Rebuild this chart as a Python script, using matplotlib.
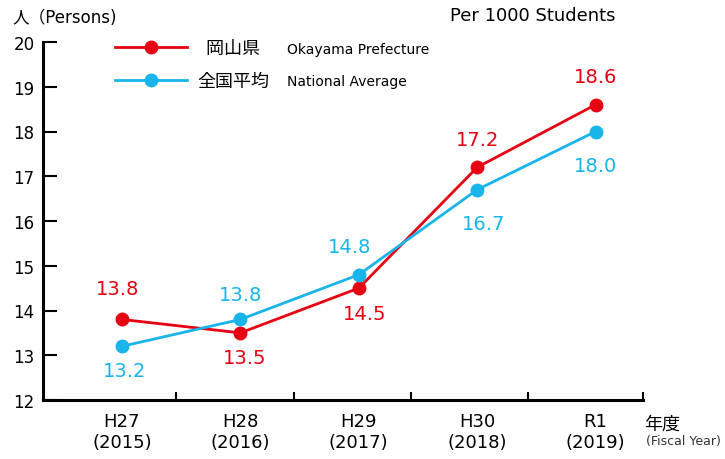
import matplotlib
matplotlib.use("Agg")
import matplotlib.pyplot as plt
from matplotlib.ticker import FixedLocator

plt.rcParams['font.family'] = ['DejaVu Sans', 'Noto Sans CJK JP']

years = ['H27\n(2015)', 'H28\n(2016)', 'H29\n(2017)', 'H30\n(2018)', 'R1\n(2019)']
okayama = [13.8, 13.5, 14.5, 17.2, 18.6]
national = [13.2, 13.8, 14.8, 16.7, 18.0]

# label offsets in px (dx, dy) relative to the point; dy positive = down
okayama_off = [(-4, -31), (4, 25), (6, 25), (0, -28), (0, -28)]
national_off = [(3, 24), (0, -25), (-9, -28), (6, 34), (0, 34)]

red = '#E60012'
blue = '#18B4EA'
jp = ['Noto Sans CJK JP', 'DejaVu Sans']

fig = plt.figure(figsize=(7.25, 4.6), dpi=100)
ax = fig.add_axes([43/725, 1-401/460, (643-43)/725, (401-43)/460])

x = list(range(len(years)))
l1, = ax.plot(x, okayama, color=red, lw=2, marker='o', ms=9, zorder=3)
l2, = ax.plot(x, national, color=blue, lw=2, marker='o', ms=9, zorder=3)

for i in x:
    dx, dy = okayama_off[i]
    ax.annotate(f'{okayama[i]:.1f}', (i, okayama[i]), xytext=(dx*0.72, -dy*0.72),
                textcoords='offset points', ha='center', va='center',
                color=red, fontsize=14)
    dx, dy = national_off[i]
    ax.annotate(f'{national[i]:.1f}', (i, national[i]), xytext=(dx*0.72, -dy*0.72),
                textcoords='offset points', ha='center', va='center',
                color=blue, fontsize=14)

ax.set_xlim(-0.667, 4.40)
ax.set_ylim(12, 20)
ax.set_yticks(range(12, 21))
ax.set_xticks(x)
ax.set_xticklabels(years, fontsize=13, linespacing=1.2)
ax.xaxis.set_minor_locator(FixedLocator([0.46, 1.45, 2.44, 3.43, 4.40]))
ax.tick_params(axis='x', which='major', length=0, pad=9)
ax.tick_params(axis='x', which='minor', direction='in', length=6, width=1.5)
ax.tick_params(axis='y', direction='in', length=10, width=1.5, labelsize=12, pad=6)

for s in ['top', 'right']:
    ax.spines[s].set_visible(False)
for s in ['left', 'bottom']:
    ax.spines[s].set_linewidth(2.2)

leg = ax.legend([l1, l2], ['\u2002岡山県', '全国平均'], loc='upper left',
                bbox_to_anchor=(115/725, 1-40/460), bbox_transform=fig.transFigure,
                frameon=False, prop={'family': jp, 'size': 13}, handlelength=4.0,
                handletextpad=0.55, labelspacing=0.85, borderpad=0, borderaxespad=0)

fig.text(287/725, 1-50/460, 'Okayama Prefecture', fontsize=10, va='center')
fig.text(287/725, 1-82/460, 'National Average', fontsize=10, va='center')
fig.text(12/725, 1-18/460, '人（Persons)', fontsize=12, va='center')
fig.text(450/725, 1-16/460, 'Per 1000 Students', fontsize=13, va='center')
fig.text(644/725, 1-425/460, '年度', fontsize=13, va='center', family=jp)
fig.text(646/725, 1-442/460, '(Fiscal Year)', fontsize=9, va='center',
         color='#333333', family=['Liberation Sans Narrow', 'DejaVu Sans'])

fig.savefig('out.png', dpi=100)
